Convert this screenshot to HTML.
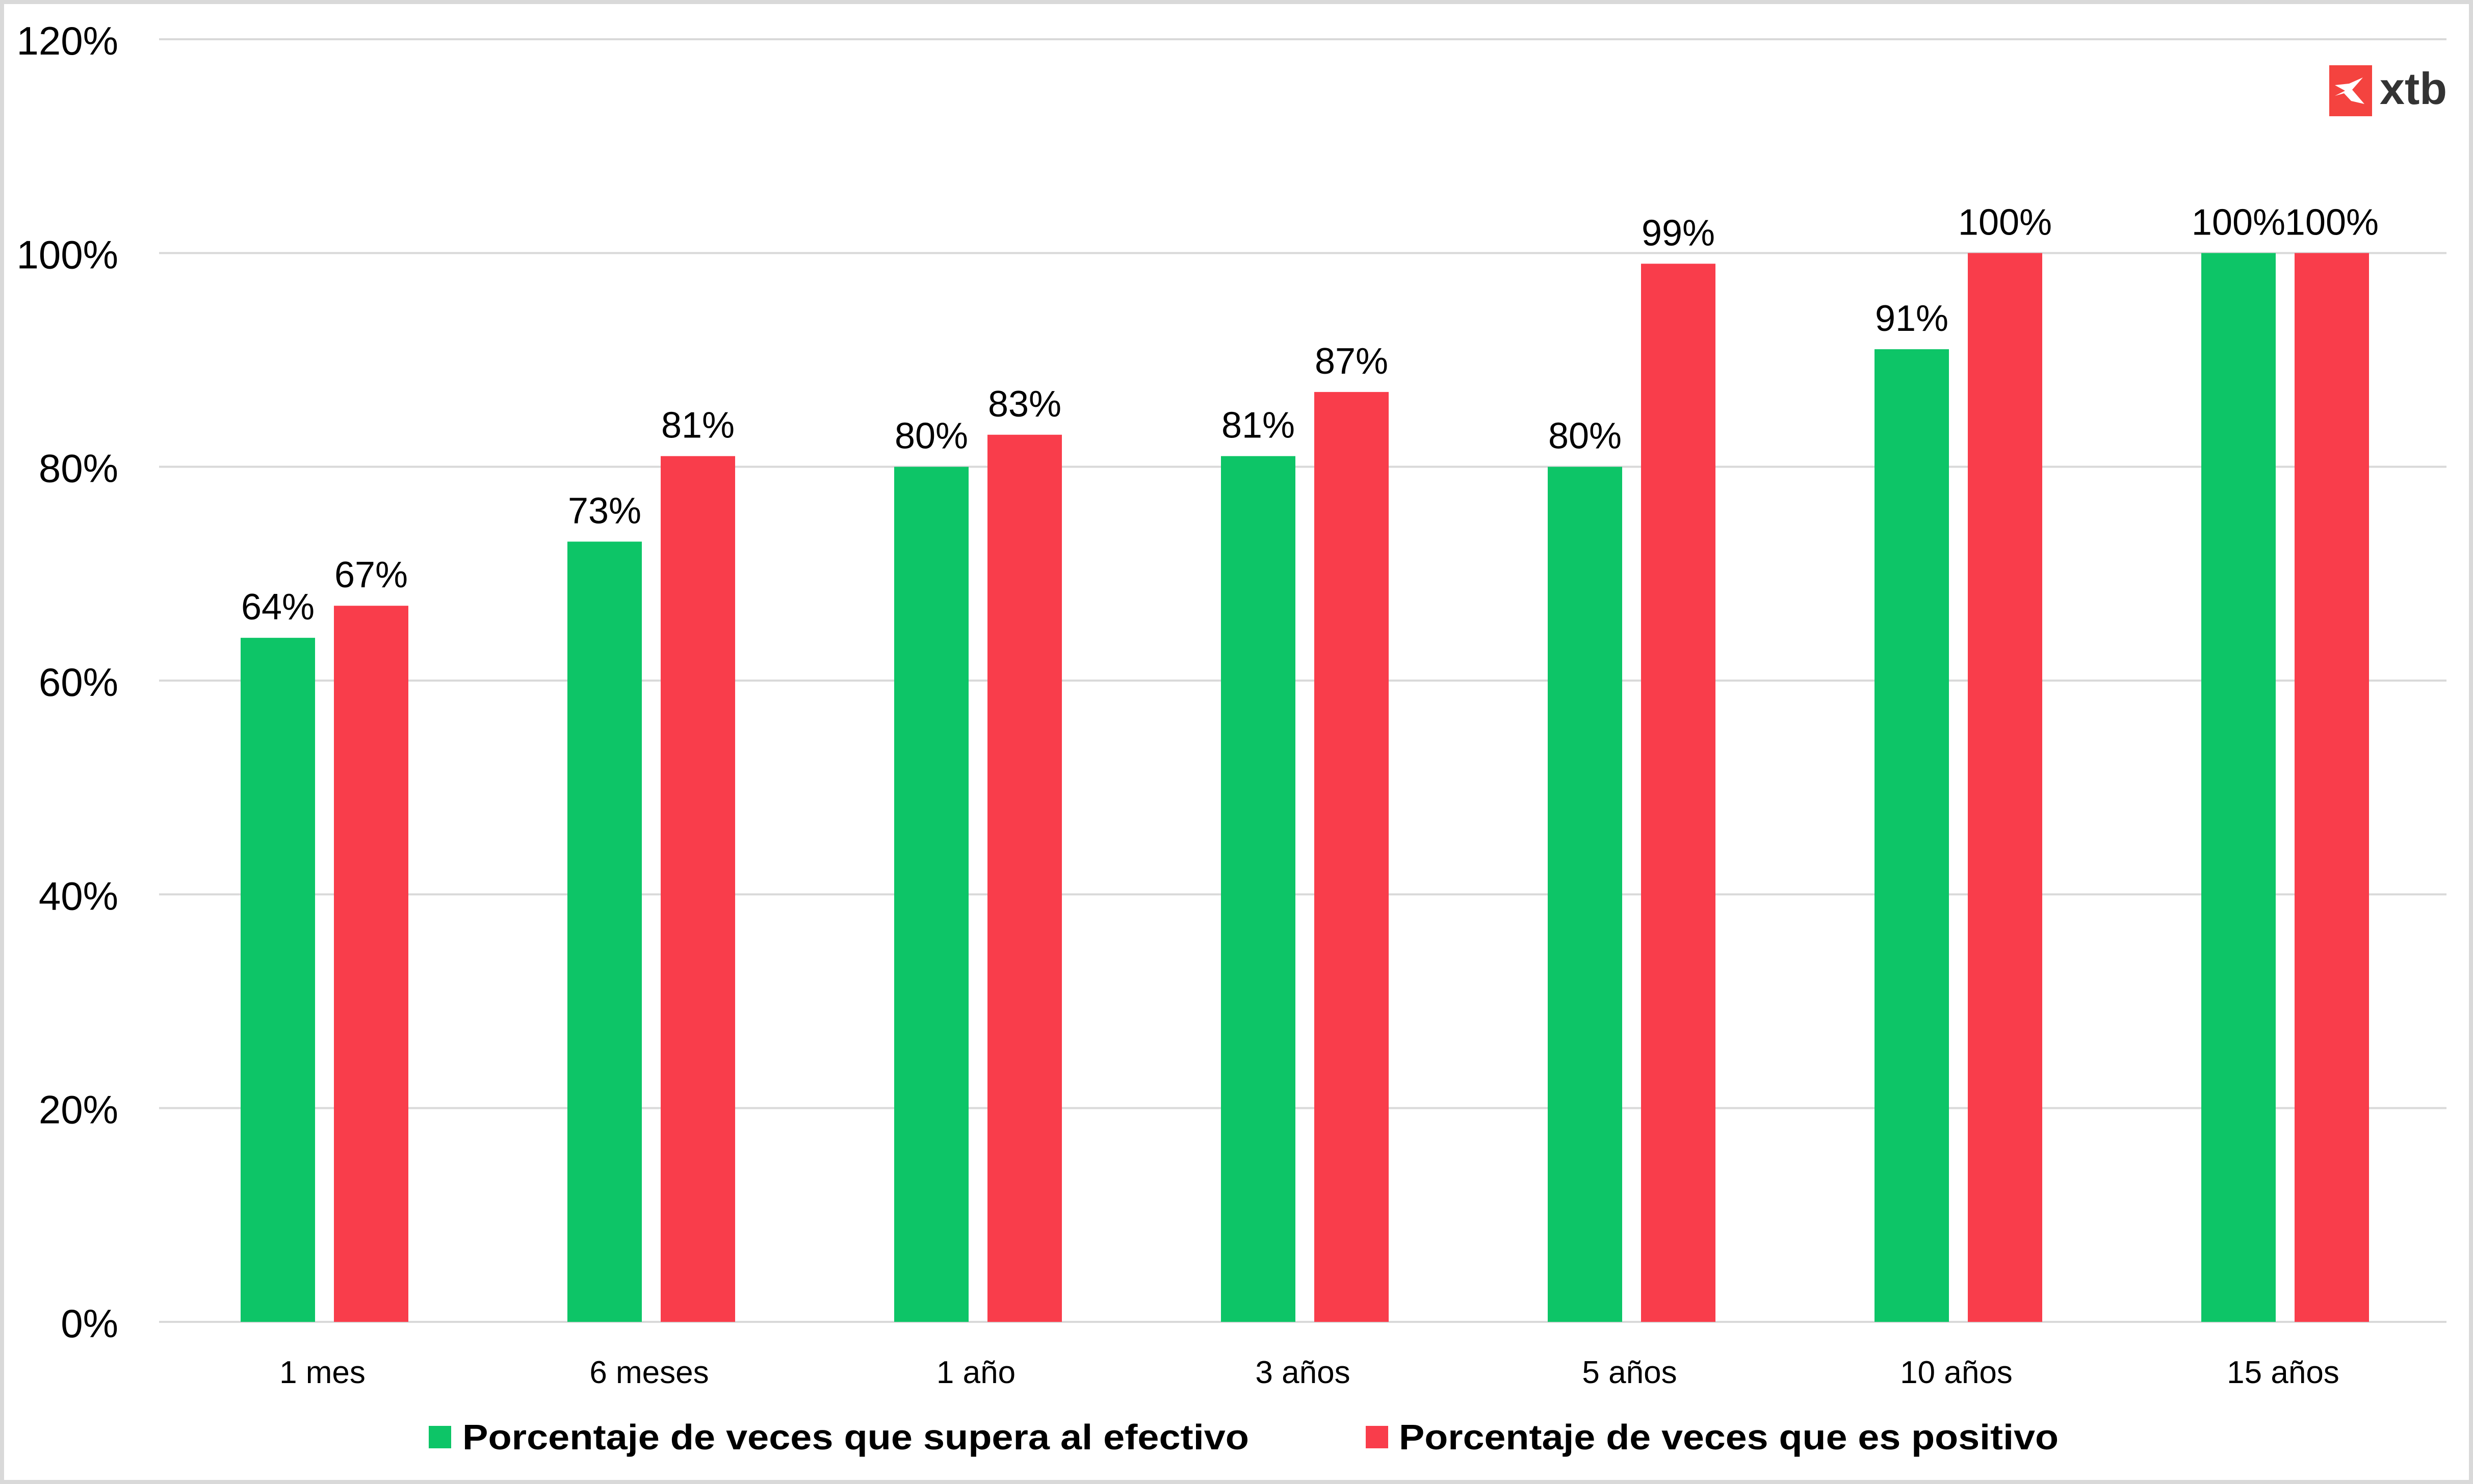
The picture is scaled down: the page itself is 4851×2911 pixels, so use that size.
<!DOCTYPE html>
<html><head><meta charset="utf-8">
<style>
html,body{margin:0;padding:0;background:#fff;}
svg{display:block;font-family:"Liberation Sans",sans-serif;}
</style></head>
<body>
<svg id="chart" width="4851" height="2911" viewBox="0 0 4851 2911" xmlns="http://www.w3.org/2000/svg">
<rect x="4" y="4" width="4843" height="2903" fill="#fff" stroke="#d9d9d9" stroke-width="8"/>
<g id="grid"></g>
<g id="bars"></g>
<g id="labels"></g>
<g>
<rect x="4569" y="128" width="84" height="100" fill="#f4433f"/>
<path d="M4580 188 L4600 178 L4580 167 L4608 164 L4635 152 L4614 176 L4638 204 L4612 198 L4598 183 Z" fill="#fff"/>
<text x="4668" y="204" font-size="88" font-weight="bold" fill="#333">xtb</text>
</g>
<g>
<rect x="841" y="2797" width="44" height="44" fill="#0dc567"/>
<text x="907" y="2843" font-size="70" font-weight="bold" textLength="1543" lengthAdjust="spacingAndGlyphs">Porcentaje de veces que supera al efectivo</text>
<rect x="2679" y="2797" width="44" height="44" fill="#f93d4b"/>
<text x="2744" y="2843" font-size="70" font-weight="bold" textLength="1294" lengthAdjust="spacingAndGlyphs">Porcentaje de veces que es positivo</text>
</g>
</svg>
<script>
const categories = ["1 mes","6 meses","1 año","3 años","5 años","10 años","15 años"];
const superaValues = [64,73,80,81,80,91,100];
const positivoValues = [67,81,83,87,99,100,100];
const yTicks = [0,20,40,60,80,100,120];

const NS = "http://www.w3.org/2000/svg";
const plotL = 312, plotR = 4799, y0 = 2593, yTop = 77, yMax = 120;
const y = v => y0 - (v / yMax) * (y0 - yTop);
const band = (plotR - plotL) / categories.length;
const x = i => plotL + band * i;
const barW = 146, gap = 37;

function mk(tag, attrs, parent) {
  const el = document.createElementNS(NS, tag);
  for (const k in attrs) el.setAttribute(k, attrs[k]);
  parent.appendChild(el);
  return el;
}
const grid = document.getElementById('grid');
const bars = document.getElementById('bars');
const labels = document.getElementById('labels');

yTicks.forEach(t => {
  const ln = mk('line', {x1: plotL, x2: plotR, y1: y(t), y2: y(t), stroke: '#d9d9d9', 'stroke-width': 4}, grid);
  
  
  const tx = mk('text', {x: 232, y: y(t) + 30, 'font-size': 78, 'text-anchor': 'end', fill: '#000'}, labels);
  tx.textContent = t + '%';
  
  
});

categories.forEach((c, i) => {
  const cx = x(i) + band / 2 + 4;
  const gx = cx - gap / 2 - barW;
  const rx = cx + gap / 2;
  const series = [[gx, superaValues[i], '#0dc567', 'bar-supera'], [rx, positivoValues[i], '#f93d4b', 'bar-positivo']];
  series.forEach(([bx, v, col, nm]) => {
    const r = mk('rect', {x: bx, y: y(v), width: barW, height: y0 - y(v), fill: col}, bars);
    
    
    const t = mk('text', {x: bx + barW / 2, y: y(v) - 36, 'font-size': 72, 'text-anchor': 'middle', fill: '#000'}, labels);
    t.textContent = v + '%';
    
    
  });
  const ct = mk('text', {x: cx - 4, y: 2713, 'font-size': 62, 'text-anchor': 'middle', fill: '#000'}, labels);
  ct.textContent = c;
  
  
});
</script>
</body></html>
